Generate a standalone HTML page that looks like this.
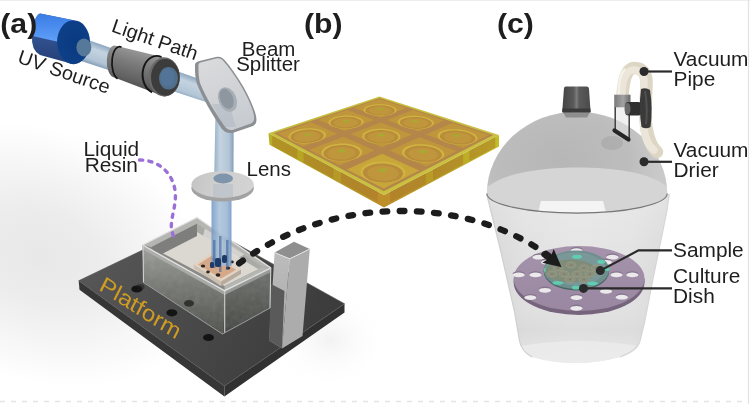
<!DOCTYPE html>
<html><head><meta charset="utf-8">
<style>
html,body{margin:0;padding:0;background:#fff;}
body{width:750px;height:404px;overflow:hidden;}
svg{display:block;will-change:transform;}
text{font-family:"Liberation Sans",sans-serif;}
</style></head>
<body>
<svg width="750" height="404" viewBox="0 0 750 404">
<defs>
  <radialGradient id="bgsh" cx="40" cy="255" r="1" gradientUnits="userSpaceOnUse" gradientTransform="translate(40 255) rotate(20) scale(175 125) translate(-40 -255)">
    <stop offset="0" stop-color="#e8e8e8"/>
    <stop offset="0.35" stop-color="#ececec"/>
    <stop offset="0.7" stop-color="#f6f6f6"/>
    <stop offset="1" stop-color="#ffffff"/>
  </radialGradient>
  <radialGradient id="bgsh2" cx="300" cy="330" r="1" gradientUnits="userSpaceOnUse" gradientTransform="translate(330 340) scale(60 50) translate(-300 -330)">
    <stop offset="0" stop-color="#f2f2f2"/>
    <stop offset="1" stop-color="#ffffff" stop-opacity="0"/>
  </radialGradient>
  <linearGradient id="plTop" gradientUnits="userSpaceOnUse" x1="100" y1="240" x2="300" y2="360">
    <stop offset="0" stop-color="#575757"/>
    <stop offset="1" stop-color="#3c3c3c"/>
  </linearGradient>
  <linearGradient id="uvTop" gradientUnits="userSpaceOnUse" x1="0" y1="14" x2="0" y2="40">
    <stop offset="0" stop-color="#3a7ce4"/>
    <stop offset="1" stop-color="#5d9ef8"/>
  </linearGradient>
  <linearGradient id="uvBot" gradientUnits="userSpaceOnUse" x1="0" y1="36" x2="0" y2="62">
    <stop offset="0" stop-color="#33528f"/>
    <stop offset="1" stop-color="#24407a"/>
  </linearGradient>
  <radialGradient id="uvFace" cx="0.55" cy="0.5" r="0.6">
    <stop offset="0" stop-color="#0a3a80"/>
    <stop offset="0.85" stop-color="#0d3f88"/>
    <stop offset="1" stop-color="#1b4f9e"/>
  </radialGradient>
  <linearGradient id="cylBody" gradientUnits="userSpaceOnUse" x1="145" y1="47" x2="133" y2="88">
    <stop offset="0" stop-color="#a2a2a2"/>
    <stop offset="0.4" stop-color="#7e7e7e"/>
    <stop offset="0.8" stop-color="#626262"/>
    <stop offset="1" stop-color="#4e4e4e"/>
  </linearGradient>
  <linearGradient id="beamG" gradientUnits="userSpaceOnUse" x1="133" y1="56" x2="126" y2="76">
    <stop offset="0" stop-color="#8fa9c2"/>
    <stop offset="0.3" stop-color="#c4d3e0"/>
    <stop offset="0.8" stop-color="#b2c5d6"/>
    <stop offset="1" stop-color="#8aa3bb"/>
  </linearGradient>
  <linearGradient id="vbeamG" gradientUnits="userSpaceOnUse" x1="213" y1="0" x2="233" y2="0">
    <stop offset="0" stop-color="#8fa9c2"/>
    <stop offset="0.35" stop-color="#c4d3e0"/>
    <stop offset="0.8" stop-color="#b2c5d6"/>
    <stop offset="1" stop-color="#8aa3bb"/>
  </linearGradient>
  <linearGradient id="vbeam2" gradientUnits="userSpaceOnUse" x1="211" y1="0" x2="232" y2="0">
    <stop offset="0" stop-color="#6f97c6"/>
    <stop offset="0.4" stop-color="#a9c1d9"/>
    <stop offset="0.75" stop-color="#9bb6d2"/>
    <stop offset="1" stop-color="#6b93c4"/>
  </linearGradient>
  <linearGradient id="splitG" gradientUnits="userSpaceOnUse" x1="210" y1="60" x2="245" y2="130">
    <stop offset="0" stop-color="#d9dadc"/>
    <stop offset="1" stop-color="#c6cacf"/>
  </linearGradient>
  <linearGradient id="lensG" gradientUnits="userSpaceOnUse" x1="192" y1="178" x2="252" y2="190">
    <stop offset="0" stop-color="#c4c4c4"/>
    <stop offset="0.4" stop-color="#cfcfcf"/>
    <stop offset="1" stop-color="#d3d3d3"/>
  </linearGradient>
  <linearGradient id="boxL" gradientUnits="userSpaceOnUse" x1="0" y1="250" x2="0" y2="330">
    <stop offset="0" stop-color="#9a9c97"/>
    <stop offset="0.45" stop-color="#767873"/>
    <stop offset="1" stop-color="#50524d"/>
  </linearGradient>
  <linearGradient id="boxR" gradientUnits="userSpaceOnUse" x1="0" y1="272" x2="0" y2="330">
    <stop offset="0" stop-color="#6e706c"/>
    <stop offset="1" stop-color="#464844"/>
  </linearGradient>
  <linearGradient id="pilL" gradientUnits="userSpaceOnUse" x1="0" y1="255" x2="0" y2="345">
    <stop offset="0" stop-color="#bcbcbc"/>
    <stop offset="1" stop-color="#a8a8a8"/>
  </linearGradient>
  <linearGradient id="plBorder" gradientUnits="userSpaceOnUse" x1="300" y1="100" x2="470" y2="190">
    <stop offset="0" stop-color="#c6be3c"/>
    <stop offset="1" stop-color="#cac042"/>
  </linearGradient>
  <linearGradient id="plSideL" gradientUnits="userSpaceOnUse" x1="268" y1="0" x2="383" y2="0">
    <stop offset="0" stop-color="#b8b020"/>
    <stop offset="0.6" stop-color="#b69a26"/>
    <stop offset="1" stop-color="#bd8e2a"/>
  </linearGradient>
  <linearGradient id="plSideR" gradientUnits="userSpaceOnUse" x1="383" y1="0" x2="497" y2="0">
    <stop offset="0" stop-color="#bd8e2a"/>
    <stop offset="0.4" stop-color="#b89a26"/>
    <stop offset="1" stop-color="#c2bc26"/>
  </linearGradient>
  <linearGradient id="bucketG" gradientUnits="userSpaceOnUse" x1="487" y1="0" x2="669" y2="0">
    <stop offset="0" stop-color="#d4d4d4"/>
    <stop offset="0.2" stop-color="#dedede"/>
    <stop offset="0.5" stop-color="#e3e3e3"/>
    <stop offset="0.8" stop-color="#e0e0e0"/>
    <stop offset="1" stop-color="#d8d8d8"/>
  </linearGradient>
  <linearGradient id="bucketV" gradientUnits="userSpaceOnUse" x1="0" y1="200" x2="0" y2="362">
    <stop offset="0" stop-color="#ffffff" stop-opacity="0.25"/>
    <stop offset="0.5" stop-color="#ffffff" stop-opacity="0"/>
    <stop offset="0.8" stop-color="#d0d0d0" stop-opacity="0.25"/>
    <stop offset="1" stop-color="#ffffff" stop-opacity="0.2"/>
  </linearGradient>
  <linearGradient id="purpG" gradientUnits="userSpaceOnUse" x1="0" y1="247" x2="0" y2="308">
    <stop offset="0" stop-color="#a592ab"/>
    <stop offset="1" stop-color="#9a87a1"/>
  </linearGradient>
  <radialGradient id="domeG" gradientUnits="userSpaceOnUse" cx="560" cy="160" r="1" gradientTransform="translate(560 160) scale(100 70) translate(-560 -160)">
    <stop offset="0" stop-color="#b6b6b6"/>
    <stop offset="0.7" stop-color="#bdbdbd"/>
    <stop offset="1" stop-color="#c9c9c9"/>
  </radialGradient>
  <linearGradient id="knobG" gradientUnits="userSpaceOnUse" x1="562" y1="0" x2="591" y2="0">
    <stop offset="0" stop-color="#444"/>
    <stop offset="0.4" stop-color="#5a5a5a"/>
    <stop offset="0.5" stop-color="#7a7a7a"/>
    <stop offset="0.6" stop-color="#5a5a5a"/>
    <stop offset="1" stop-color="#4a4a4a"/>
  </linearGradient>
  <clipPath id="boxClip"><polygon points="142.6,245 224.7,290.7 271,268 270,308 222.5,334 143.5,282.5"/></clipPath>
  <filter id="noiseF" x="0" y="0" width="1" height="1"><feTurbulence type="fractalNoise" baseFrequency="0.18" numOctaves="3" seed="7"/><feColorMatrix type="saturate" values="0"/></filter>
  <linearGradient id="valveG" x1="0" y1="0" x2="1" y2="0">
    <stop offset="0" stop-color="#7a7a7a"/>
    <stop offset="0.55" stop-color="#a2a2a2"/>
    <stop offset="1" stop-color="#6a6a6a"/>
  </linearGradient>
</defs>
<rect width="750" height="404" fill="#fff"/>
<rect x="0" y="100" width="260" height="304" fill="url(#bgsh)"/>
<rect x="250" y="270" width="170" height="130" fill="url(#bgsh2)"/>

<!-- ===== PLATFORM ===== -->
<g id="platform">
  <polygon points="78.7,280.8 224.4,386 224.4,396.5 79.5,289.8" fill="#363636"/>
  <polygon points="224.4,386 344.5,303.8 344.5,312.4 224.4,396.5" fill="#313131"/>
  <polygon points="78.7,280.8 199,223 344.5,303.8 224.4,386" fill="url(#plTop)" stroke="#555" stroke-width="0.7"/>
  <ellipse cx="136.8" cy="289" rx="5.5" ry="3.6" fill="#141414"/>
  <ellipse cx="171.8" cy="312.8" rx="5.5" ry="3.6" fill="#141414"/>
  <ellipse cx="208.5" cy="337.5" rx="5.5" ry="3.6" fill="#141414"/>
  <ellipse cx="189" cy="303.3" rx="5" ry="3.3" fill="#141414"/>
  <text transform="translate(97.9,289.6) rotate(32.5) skewX(5.5) scale(1,0.88)" font-size="25" fill="#d09c24">Platform</text>
</g>

<!-- ===== PILLAR ===== -->
<g id="pillar">
  <polygon points="274.6,252.6 289.7,258.8 282,348.5 269,340.5" fill="url(#pilL)"/>
  <polygon points="271,284 284.5,291 282,348.5 269,340.5" fill="#5a5a5a"/>
  <polygon points="289.7,258.8 309.8,249 302.5,336 282,348.5" fill="#acacac"/>
  <polygon points="274.6,252.6 294,241.8 309.8,249 289.7,258.8" fill="#8f8f8f"/>
  <path d="M274.6,252.6 L289.7,258.8 L309.8,249" stroke="#ececec" stroke-width="0.9" fill="none"/>
</g>

<!-- ===== GLASS BOX ===== -->
<g id="box">
  <polygon points="142.6,245 197,217.5 271,268 270,308 222.5,334 143.5,282.5" fill="#8a8b88"/>
  <polygon points="151,247 197,223.5 263,267 224.5,286" fill="#dbd8d1"/>
  <polygon points="151,247 197,223.5 197,236 158,256" fill="#7e7f7c"/>
  <polygon points="197,223.5 263,267 258,269 197,232" fill="#a9a9a6"/>
  <polygon points="205,228 245,254 238,258 203,236" fill="#e6e4df" opacity="0.7"/>
  <!-- sample holder -->
  <polygon points="193.5,264.5 212,252 241,269.5 221,281.5" fill="#e2d2c2"/>
  <polygon points="198,264.5 212,255.5 236,269.8 221,278.5" fill="#d6a88a"/>
  <polygon points="193.5,264.5 221,281.5 221,286 194,268.5" fill="#cdbfb2"/>
  <polygon points="221,281.5 241,269.5 241,274 221,286" fill="#b8aa9c"/>
  <g fill="#2a2622">
    <ellipse cx="203" cy="266" rx="2.2" ry="1.6"/><ellipse cx="214" cy="259" rx="2.2" ry="1.6"/>
    <ellipse cx="228" cy="268" rx="2.2" ry="1.6"/><ellipse cx="218" cy="275" rx="2.4" ry="1.8"/>
    <ellipse cx="232" cy="262" rx="1.8" ry="1.4"/><ellipse cx="208" cy="272" rx="1.8" ry="1.4"/>
  </g>
  <!-- front walls -->
  <polygon points="142.6,245 224.7,290.7 222.5,334 143.5,282.5" fill="url(#boxL)"/>
  <polygon points="224.7,290.7 271,268 270,308 222.5,334" fill="url(#boxR)"/>
  <g clip-path="url(#boxClip)"><rect x="140" y="215" width="135" height="120" filter="url(#noiseF)" opacity="0.14"/></g>
  <ellipse cx="189" cy="303.3" rx="5" ry="3.3" fill="#1a1a1a" opacity="0.7"/>
  <ellipse cx="140.5" cy="287" rx="4" ry="3" fill="#1a1a1a" opacity="0.5"/>
  <polygon points="142.6,245 224.7,290.7 224.7,295 142.8,249.5" fill="#b0b0ae" opacity="0.85"/>
  <polygon points="224.7,290.7 271,268 271,272 224.7,295" fill="#a2a2a0" opacity="0.85"/>
  <polygon points="142.6,245 197,217.5 271,268 263,267 197,223.5 151,247" fill="#b9b9b7" opacity="0.9"/>
  <polygon points="224.7,290.7 224.5,286 263,267 271,268" fill="#b9b9b7" opacity="0.9"/>
  <path d="M142.6,245 L197,217.5 L271,268 M142.6,245 L224.7,290.7 L271,268" fill="none" stroke="#e4e4e4" stroke-width="1.3"/>
  <path d="M224.7,291 L224.7,333 M143,245.5 L143.5,282.5 M270.8,268 L270,308" fill="none" stroke="#d0d0d0" stroke-width="1.1"/>
  <path d="M143.5,282.5 L222.5,334 L270,308" fill="none" stroke="#9a9a9a" stroke-width="1"/>
</g>

<!-- ===== BEAMS ===== -->
<g id="beams">
  <rect x="211.5" y="196" width="20" height="70" fill="url(#vbeam2)" opacity="0.88"/>
  <g fill="#3a5f96" opacity="0.55">
    <rect x="213" y="240" width="2.5" height="28"/><rect x="219" y="236" width="2.5" height="36"/><rect x="226" y="240" width="2.5" height="30"/>
  </g>
  <g fill="#1e3a66">
    <rect x="215" y="258" width="6" height="9" rx="2"/><rect x="222" y="255" width="5" height="8" rx="2"/><rect x="210" y="262" width="4" height="6" rx="1.5"/>
  </g>
  <path d="M84,38.5 L205,81 L212,104 L78,60 Z" fill="url(#beamG)"/>
  <path d="M215.5,112 L233.7,112 L233.5,186 L214,186 Z" fill="url(#vbeamG)"/>
</g>

<!-- ===== LENS ===== -->
<g id="lens">
  <ellipse cx="222.6" cy="188.3" rx="31.2" ry="13.2" fill="#a2a2a2"/>
  <ellipse cx="222.6" cy="184.5" rx="31.2" ry="13.2" fill="url(#lensG)"/>
  <rect x="213" y="184" width="20" height="13" fill="#8fa6bf" opacity="0.25"/>
  <ellipse cx="223.2" cy="178.5" rx="9.8" ry="5" fill="#7e95ab"/>
</g>

<!-- ===== BEAM SPLITTER ===== -->
<g id="splitter">
  <path d="M195,67 C194.5,63 196,62 199.5,61 L216,57 C220,56.2 222.5,57.5 225,60.5 C234,71 247,90 253.5,108 C256.5,116 258.5,123 253,126 L234,132.5 C229,134 225,132.5 221.5,128.5 C212,114 203,99 197,84 C195,78 195,72 195,67 Z" fill="#8c8f93"/>
  <path d="M198.5,66.5 C198.3,63 199.5,62.5 202.5,62 L216,58.5 C219.5,57.8 221.5,58.8 223.8,61.5 C233,72 245.5,90.5 252,108.5 C254.5,116 255.5,121 251,123.5 L234,129.5 C230,131 227,129.5 224.5,126 C215,112 206,98 200,83 C198.5,77 198.5,71.5 198.5,66.5 Z" fill="url(#splitG)"/>
  <path d="M212,104 C217,114 221,121 225,127 L236,127 C233,118 231,110 230,104 Z" fill="#aab4c0" opacity="0.45"/>
  <ellipse cx="227.5" cy="99.5" rx="9" ry="12.8" transform="rotate(-22 227.5 99.5)" fill="#a9afb6"/>
  <ellipse cx="226.6" cy="98.8" rx="6.5" ry="10.5" transform="rotate(-22 226.6 98.8)" fill="#8e969f"/>
</g>

<!-- ===== BLACK CYLINDER ===== -->
<g id="cyl">
  <path d="M114.7,45.4 L164.2,57.5 A15.6,19.5 0 0 1 164.2,96.5 L113,77 A8,16 0 0 1 114.7,45.4 Z" fill="url(#cylBody)"/>
  <path d="M121.5,47.2 A7.5,16.2 0 0 0 117.5,78.7" fill="none" stroke="#151515" stroke-width="1.7"/>
  <path d="M161.5,57 A14,18.5 0 0 0 152,92.3" fill="none" stroke="#151515" stroke-width="1.9"/>
  <ellipse cx="164.2" cy="77" rx="15.6" ry="19.5" fill="#6a6a6a"/>
  <ellipse cx="165.3" cy="77.4" rx="14.3" ry="18.3" fill="#3c3c3c"/>
  <ellipse cx="168.5" cy="78.3" rx="9.5" ry="11.3" fill="#4f6f8d"/>
  <ellipse cx="167.5" cy="77.3" rx="7" ry="9" fill="#55769a" opacity="0.7"/>
</g>

<!-- ===== UV SOURCE ===== -->
<g id="uv">
  <path d="M40,13.5 L73.5,20.2 L73.5,64.2 L40,55 Q31,50 32,36 Q33,17 40,13.5 Z" fill="url(#uvBot)"/>
  <path d="M40,13.5 L73.5,20.2 L60,42.2 L32.3,36 Q33,17 40,13.5 Z" fill="url(#uvTop)"/>
  <ellipse cx="73.5" cy="42.2" rx="16.5" ry="22" fill="url(#uvFace)"/>
  <ellipse cx="83.9" cy="47.4" rx="7.5" ry="9" fill="#56799a"/>
</g>

<!-- ===== LABELS (a) ===== -->
<g fill="#1e1e1e" font-size="19.5">
  <text transform="translate(0.3,32.5) scale(1.06,1)" font-size="28.5" font-weight="bold">(a)</text>
  <text transform="translate(16.6,62.2) rotate(19.3) scale(1.02,1)">UV Source</text>
  <text transform="translate(110.6,31.3) rotate(19) scale(1.02,1)">Light Path</text>
  <text transform="translate(268.6,55.6) scale(1.05,1)" text-anchor="middle">Beam</text>
  <text transform="translate(268,71.2) scale(1.05,1)" text-anchor="middle">Splitter</text>
  <text transform="translate(246.5,175.8) scale(1.05,1)">Lens</text>
  <text transform="translate(111.3,155.6) scale(1.07,1)" text-anchor="middle">Liquid</text>
  <text transform="translate(111.3,171.7) scale(1.07,1)" text-anchor="middle">Resin</text>
</g>
<path d="M139.5,160 C158,160 172,172 175,190 C177,205 171,215 171.3,228 L173.5,237" fill="none" stroke="#9b6fd8" stroke-width="3.4" stroke-linecap="round" stroke-dasharray="3.2 6.2"/>

<g id="plate">
<polygon points="268.5,133.3 384.0,195.0 384.0,207.5 269.5,144.8" fill="url(#plSideL)"/>
<polygon points="384.0,195.0 499.0,135.0 499.0,146.5 384.0,207.5" fill="url(#plSideR)"/>
<polygon points="272.2,135.3 297.3,148.7 297.3,159.2 272.2,145.8" fill="#a8742c" opacity="0.45"/>
<polygon points="495.2,137.0 469.4,150.4 469.4,160.9 495.2,147.5" fill="#a8742c" opacity="0.45"/>
<polygon points="303.5,152.0 333.5,168.0 333.5,178.5 303.5,162.5" fill="#a8742c" opacity="0.45"/>
<polygon points="463.1,153.7 433.0,169.4 433.0,179.9 463.1,164.2" fill="#a8742c" opacity="0.45"/>
<polygon points="341.0,172.0 377.6,191.6 377.6,202.1 341.0,182.5" fill="#a8742c" opacity="0.45"/>
<polygon points="425.7,173.3 390.1,191.8 390.1,202.3 425.7,183.8" fill="#a8742c" opacity="0.45"/>
<polygon points="379.5,96.5 499.0,135.0 384.0,195.0 268.5,133.3" fill="url(#plBorder)"/>
<polygon points="379.6,98.0 493.2,135.0 383.8,191.2 273.8,133.3" fill="#b4864a"/>
<polygon points="379.6,99.1 406.6,108.0 380.5,117.7 353.7,107.8" fill="#c0963c"/>
<polygon points="392.2,114.1 389.3,115.0 385.9,115.6 382.2,115.9 378.4,115.8 374.6,115.5 371.2,114.9 368.3,114.1 365.9,113.0 364.4,111.8 363.6,110.5 363.7,109.2 364.5,108.0 366.2,106.8 368.4,105.9 371.3,105.1 374.5,104.6 378.0,104.3 381.6,104.3 385.1,104.6 388.4,105.1 391.3,105.9 393.7,106.9 395.4,108.0 396.4,109.3 396.6,110.6 395.9,111.9 394.5,113.1" fill="#d0b440"/>
<polygon points="390.9,114.1 388.3,114.8 385.3,115.4 382.0,115.6 378.6,115.6 375.3,115.3 372.2,114.8 369.6,114.0 367.5,113.1 366.1,112.0 365.4,110.9 365.5,109.7 366.2,108.6 367.7,107.6 369.7,106.7 372.2,106.0 375.1,105.6 378.2,105.3 381.4,105.3 384.6,105.6 387.5,106.1 390.1,106.8 392.2,107.6 393.8,108.7 394.6,109.8 394.8,110.9 394.2,112.1 392.9,113.2" fill="#b88c3a"/>
<polygon points="388.5,113.5 386.5,114.0 384.1,114.5 381.6,114.7 378.9,114.6 376.3,114.4 374.0,114.0 371.9,113.4 370.3,112.7 369.2,111.8 368.6,111.0 368.6,110.0 369.2,109.2 370.3,108.4 371.9,107.7 373.9,107.2 376.2,106.8 378.6,106.6 381.1,106.6 383.6,106.8 385.9,107.2 387.9,107.7 389.6,108.4 390.8,109.2 391.5,110.1 391.6,111.0 391.1,111.9 390.1,112.7" fill="#c0963c"/>
<polygon points="382.3,109.9 381.3,110.1 380.0,110.2 378.8,110.1 377.7,109.8 377.0,109.5 376.8,109.1 377.0,108.6 377.7,108.3 378.7,108.0 379.9,108.0 381.2,108.0 382.2,108.3 382.9,108.6 383.2,109.1 383.0,109.5" fill="#a8a832"/>
<polygon points="347.4,109.9 374.2,120.0 344.4,131.1 318.1,119.8" fill="#c0963c"/>
<polygon points="358.0,126.8 354.8,127.7 351.1,128.4 347.1,128.7 343.0,128.7 339.1,128.3 335.6,127.6 332.7,126.6 330.4,125.4 329.0,124.0 328.5,122.6 328.9,121.1 330.1,119.7 332.0,118.4 334.6,117.3 337.8,116.5 341.3,115.9 345.0,115.6 348.8,115.6 352.5,115.9 355.8,116.5 358.7,117.4 361.1,118.5 362.7,119.8 363.5,121.3 363.4,122.7 362.4,124.2 360.6,125.6" fill="#d0b440"/>
<polygon points="356.6,126.7 353.7,127.6 350.4,128.2 346.9,128.5 343.3,128.4 339.8,128.1 336.7,127.5 334.1,126.6 332.1,125.5 330.8,124.3 330.3,123.0 330.6,121.7 331.7,120.4 333.4,119.3 335.8,118.3 338.6,117.5 341.7,117.0 345.1,116.7 348.4,116.7 351.7,117.0 354.7,117.6 357.3,118.4 359.4,119.4 360.8,120.5 361.5,121.8 361.4,123.1 360.6,124.4 358.9,125.7" fill="#b88c3a"/>
<polygon points="354.2,126.0 352.0,126.7 349.4,127.1 346.6,127.3 343.8,127.3 341.1,127.1 338.7,126.6 336.7,125.9 335.1,125.1 334.1,124.1 333.7,123.1 333.9,122.1 334.7,121.1 336.1,120.2 337.9,119.4 340.1,118.8 342.6,118.4 345.2,118.2 347.9,118.2 350.4,118.4 352.8,118.8 354.8,119.5 356.5,120.3 357.6,121.2 358.1,122.2 358.0,123.2 357.3,124.2 356.0,125.2" fill="#c0963c"/>
<polygon points="348.4,121.9 347.3,122.2 346.0,122.2 344.7,122.1 343.6,121.9 342.9,121.4 342.8,121.0 343.1,120.5 343.9,120.1 345.0,119.8 346.3,119.7 347.6,119.8 348.7,120.1 349.3,120.5 349.5,121.0 349.2,121.5" fill="#a8a832"/>
<polygon points="311.1,122.2 337.2,133.8 303.1,146.5 277.8,133.4" fill="#c0963c"/>
<polygon points="319.0,141.2 315.3,142.3 311.2,143.1 306.9,143.4 302.6,143.4 298.5,142.9 295.0,142.1 292.1,141.0 290.0,139.6 288.8,138.0 288.6,136.3 289.3,134.6 290.9,133.0 293.3,131.5 296.3,130.3 299.8,129.3 303.7,128.7 307.7,128.3 311.7,128.3 315.5,128.7 318.9,129.4 321.8,130.5 324.1,131.7 325.5,133.2 326.0,134.9 325.6,136.6 324.3,138.3 322.0,139.8" fill="#d0b440"/>
<polygon points="317.5,141.1 314.3,142.1 310.6,142.8 306.8,143.1 302.9,143.1 299.3,142.7 296.2,142.0 293.6,140.9 291.7,139.7 290.7,138.3 290.5,136.8 291.1,135.3 292.5,133.8 294.6,132.5 297.3,131.4 300.4,130.5 303.9,129.9 307.5,129.6 311.1,129.6 314.5,130.0 317.5,130.6 320.1,131.5 322.1,132.7 323.3,134.0 323.8,135.5 323.4,137.0 322.2,138.5 320.2,139.9" fill="#b88c3a"/>
<polygon points="315.1,140.3 312.6,141.1 309.7,141.6 306.7,141.8 303.8,141.8 301.0,141.5 298.5,140.9 296.5,140.2 295.0,139.2 294.2,138.1 294.0,136.9 294.5,135.7 295.5,134.6 297.2,133.6 299.3,132.7 301.8,132.0 304.5,131.5 307.3,131.3 310.2,131.3 312.8,131.6 315.2,132.1 317.3,132.8 318.8,133.7 319.8,134.8 320.1,135.9 319.8,137.1 318.8,138.3 317.2,139.4" fill="#c0963c"/>
<polygon points="309.9,135.5 308.6,135.9 307.2,136.0 305.9,135.8 304.8,135.5 304.2,135.0 304.1,134.5 304.6,133.9 305.5,133.5 306.8,133.1 308.2,133.0 309.5,133.2 310.5,133.5 311.2,134.0 311.3,134.5 310.8,135.1" fill="#a8a832"/>
<polygon points="413.2,110.1 444.5,120.4 418.3,131.6 387.0,120.1" fill="#c0963c"/>
<polygon points="429.8,127.2 426.9,128.2 423.3,128.8 419.3,129.2 415.2,129.1 411.0,128.8 407.2,128.0 403.8,127.0 401.0,125.8 399.0,124.4 397.9,122.9 397.7,121.4 398.4,120.0 399.9,118.7 402.2,117.6 405.1,116.7 408.4,116.1 412.2,115.8 416.0,115.8 419.9,116.2 423.6,116.8 426.9,117.7 429.7,118.8 431.9,120.1 433.3,121.6 433.8,123.1 433.4,124.6 432.0,126.0" fill="#d0b440"/>
<polygon points="428.4,127.1 425.7,128.0 422.6,128.6 419.0,128.9 415.3,128.9 411.7,128.5 408.2,127.9 405.2,127.0 402.7,125.9 401.0,124.6 400.0,123.3 399.8,122.0 400.4,120.7 401.7,119.5 403.7,118.6 406.3,117.8 409.3,117.2 412.6,117.0 416.1,117.0 419.6,117.3 422.9,117.8 425.8,118.6 428.3,119.7 430.2,120.8 431.5,122.1 431.9,123.5 431.5,124.8 430.3,126.0" fill="#b88c3a"/>
<polygon points="425.6,126.4 423.6,127.1 421.1,127.5 418.4,127.8 415.5,127.7 412.6,127.5 409.9,127.0 407.6,126.3 405.7,125.4 404.3,124.5 403.5,123.4 403.3,122.4 403.7,121.4 404.8,120.5 406.3,119.7 408.4,119.1 410.7,118.6 413.3,118.4 416.1,118.4 418.8,118.7 421.4,119.1 423.7,119.8 425.7,120.6 427.2,121.5 428.1,122.5 428.4,123.6 428.1,124.6 427.2,125.6" fill="#c0963c"/>
<polygon points="418.1,122.2 417.0,122.5 415.7,122.6 414.3,122.5 413.1,122.2 412.3,121.8 411.9,121.3 412.1,120.8 412.7,120.4 413.8,120.1 415.1,120.0 416.4,120.1 417.6,120.4 418.5,120.8 418.9,121.3 418.7,121.8" fill="#a8a832"/>
<polygon points="380.7,122.5 412.0,134.4 381.8,147.3 350.8,133.9" fill="#c0963c"/>
<polygon points="395.4,141.9 392.0,143.0 388.1,143.7 383.8,144.1 379.4,144.1 375.0,143.6 371.0,142.8 367.6,141.6 365.0,140.2 363.2,138.6 362.3,136.9 362.4,135.1 363.4,133.5 365.3,132.0 367.9,130.7 371.1,129.8 374.8,129.1 378.8,128.8 382.9,128.8 387.0,129.2 390.8,129.9 394.1,130.9 396.9,132.2 398.9,133.7 400.1,135.4 400.4,137.1 399.6,138.9 398.0,140.5" fill="#d0b440"/>
<polygon points="393.8,141.8 390.9,142.8 387.4,143.5 383.5,143.8 379.6,143.8 375.7,143.4 372.2,142.6 369.2,141.6 366.8,140.3 365.2,138.9 364.4,137.3 364.4,135.8 365.3,134.3 367.0,133.0 369.3,131.9 372.2,131.0 375.5,130.4 379.1,130.1 382.8,130.1 386.4,130.4 389.8,131.1 392.8,132.0 395.3,133.2 397.1,134.6 398.1,136.0 398.3,137.6 397.6,139.1 396.1,140.5" fill="#b88c3a"/>
<polygon points="391.0,140.9 388.7,141.7 386.0,142.2 383.0,142.5 380.0,142.5 377.0,142.2 374.2,141.6 371.9,140.8 370.0,139.8 368.7,138.7 368.1,137.5 368.1,136.3 368.8,135.1 370.0,134.1 371.9,133.2 374.1,132.5 376.7,132.0 379.6,131.7 382.5,131.8 385.3,132.0 388.0,132.6 390.3,133.3 392.3,134.2 393.7,135.3 394.4,136.5 394.6,137.7 394.0,138.9 392.8,140.0" fill="#c0963c"/>
<polygon points="383.8,136.1 382.7,136.4 381.2,136.5 379.8,136.4 378.6,136.1 377.8,135.6 377.5,135.0 377.7,134.4 378.5,134.0 379.7,133.7 381.1,133.6 382.5,133.7 383.7,134.0 384.5,134.5 384.9,135.0 384.6,135.6" fill="#a8a832"/>
<polygon points="343.6,136.7 374.5,150.4 339.5,165.5 309.3,149.8" fill="#c0963c"/>
<polygon points="355.6,158.8 351.8,160.1 347.4,161.0 342.7,161.4 338.0,161.3 333.4,160.8 329.4,159.8 326.0,158.4 323.4,156.8 321.8,154.9 321.3,152.9 321.8,150.9 323.2,149.0 325.5,147.3 328.6,145.8 332.3,144.7 336.4,143.9 340.7,143.5 345.1,143.6 349.3,144.0 353.2,144.9 356.6,146.1 359.3,147.6 361.1,149.4 362.0,151.3 361.9,153.3 360.8,155.3 358.7,157.2" fill="#d0b440"/>
<polygon points="354.0,158.7 350.6,159.9 346.7,160.7 342.5,161.0 338.3,161.0 334.3,160.5 330.6,159.6 327.6,158.4 325.3,156.9 323.9,155.2 323.4,153.5 323.8,151.7 325.1,150.0 327.2,148.4 329.9,147.1 333.2,146.1 336.9,145.4 340.7,145.1 344.6,145.1 348.4,145.5 351.9,146.3 354.9,147.4 357.3,148.7 358.9,150.3 359.7,152.0 359.6,153.8 358.6,155.6 356.7,157.3" fill="#b88c3a"/>
<polygon points="351.2,157.7 348.5,158.6 345.5,159.2 342.3,159.5 339.0,159.5 335.9,159.1 333.0,158.4 330.7,157.5 328.9,156.3 327.7,155.0 327.3,153.6 327.6,152.2 328.6,150.9 330.2,149.7 332.3,148.6 334.9,147.8 337.8,147.3 340.9,147.0 344.0,147.0 346.9,147.4 349.7,148.0 352.0,148.8 353.9,149.9 355.1,151.2 355.7,152.5 355.6,153.9 354.8,155.3 353.3,156.6" fill="#c0963c"/>
<polygon points="344.5,152.1 343.2,152.4 341.6,152.5 340.1,152.4 338.9,152.0 338.1,151.4 337.9,150.8 338.3,150.1 339.3,149.6 340.6,149.2 342.1,149.1 343.6,149.2 344.8,149.6 345.6,150.2 345.8,150.8 345.4,151.5" fill="#a8a832"/>
<polygon points="452.2,122.9 488.9,134.9 463.0,148.1 426.0,134.5" fill="#c0963c"/>
<polygon points="474.0,142.5 471.1,143.7 467.3,144.4 463.0,144.8 458.5,144.8 453.8,144.3 449.4,143.5 445.5,142.3 442.2,140.8 439.7,139.2 438.1,137.4 437.5,135.7 437.9,134.0 439.3,132.5 441.5,131.2 444.4,130.2 448.0,129.5 451.9,129.2 456.2,129.2 460.4,129.6 464.6,130.3 468.5,131.4 471.8,132.7 474.5,134.3 476.4,136.0 477.3,137.7 477.2,139.5 476.1,141.1" fill="#d0b440"/>
<polygon points="472.4,142.5 469.8,143.5 466.4,144.2 462.6,144.5 458.6,144.5 454.5,144.1 450.5,143.3 447.0,142.2 444.1,140.9 441.8,139.5 440.4,137.9 439.9,136.4 440.2,134.9 441.4,133.5 443.4,132.3 446.0,131.4 449.2,130.8 452.7,130.5 456.5,130.5 460.3,130.9 464.1,131.6 467.5,132.5 470.5,133.7 472.9,135.1 474.6,136.6 475.4,138.2 475.3,139.7 474.3,141.2" fill="#b88c3a"/>
<polygon points="469.2,141.6 467.1,142.4 464.6,142.9 461.6,143.2 458.5,143.1 455.3,142.8 452.2,142.2 449.5,141.4 447.2,140.4 445.4,139.3 444.3,138.1 443.8,136.8 444.1,135.7 445.0,134.6 446.5,133.7 448.6,133.0 451.1,132.5 453.9,132.2 456.8,132.2 459.9,132.5 462.8,133.1 465.5,133.8 467.8,134.7 469.7,135.8 471.0,137.0 471.6,138.3 471.5,139.5 470.7,140.6" fill="#c0963c"/>
<polygon points="459.9,136.7 458.8,137.0 457.4,137.1 455.9,137.0 454.5,136.6 453.5,136.1 453.0,135.5 453.0,135.0 453.6,134.5 454.7,134.2 456.1,134.1 457.6,134.2 459.0,134.5 460.0,135.0 460.6,135.6 460.5,136.2" fill="#a8a832"/>
<polygon points="419.6,137.3 456.7,151.3 426.6,166.6 389.5,150.6" fill="#c0963c"/>
<polygon points="439.8,159.8 436.4,161.1 432.2,162.0 427.6,162.5 422.7,162.4 417.8,161.8 413.2,160.8 409.2,159.4 405.9,157.7 403.6,155.8 402.2,153.8 402.0,151.7 402.7,149.8 404.4,148.0 407.0,146.6 410.4,145.4 414.3,144.6 418.6,144.2 423.1,144.3 427.6,144.7 431.9,145.6 435.8,146.8 439.2,148.4 441.8,150.2 443.5,152.1 444.2,154.2 443.8,156.2 442.3,158.1" fill="#d0b440"/>
<polygon points="438.1,159.7 435.0,160.9 431.4,161.7 427.2,162.1 422.9,162.0 418.5,161.5 414.5,160.6 410.9,159.4 408.0,157.9 405.9,156.1 404.6,154.3 404.4,152.5 405.0,150.8 406.5,149.2 408.9,147.9 411.8,146.8 415.3,146.1 419.2,145.8 423.2,145.8 427.3,146.2 431.1,147.0 434.6,148.1 437.6,149.5 439.9,151.1 441.4,152.9 442.0,154.7 441.6,156.5 440.3,158.2" fill="#b88c3a"/>
<polygon points="434.8,158.7 432.4,159.6 429.6,160.2 426.4,160.5 423.0,160.5 419.6,160.1 416.5,159.4 413.7,158.4 411.4,157.3 409.7,155.9 408.7,154.5 408.5,153.1 409.0,151.7 410.1,150.5 411.9,149.4 414.3,148.6 417.0,148.0 420.1,147.8 423.2,147.8 426.4,148.1 429.5,148.7 432.2,149.6 434.6,150.7 436.3,152.0 437.5,153.4 437.9,154.8 437.6,156.2 436.6,157.5" fill="#c0963c"/>
<polygon points="425.8,152.9 424.5,153.3 423.0,153.4 421.4,153.3 420.0,152.9 419.0,152.3 418.5,151.6 418.7,150.9 419.4,150.4 420.7,150.0 422.2,149.9 423.7,150.0 425.1,150.4 426.2,151.0 426.6,151.7 426.5,152.3" fill="#a8a832"/>
<polygon points="382.1,153.8 419.2,170.4 383.7,188.5 347.0,169.4" fill="#c8a63a"/>
<polygon points="399.7,180.0 395.8,181.6 391.1,182.6 386.0,183.1 380.7,183.0 375.6,182.4 370.8,181.2 366.8,179.5 363.6,177.4 361.5,175.2 360.5,172.8 360.6,170.4 361.8,168.1 364.0,166.1 367.1,164.3 370.9,163.0 375.3,162.1 380.0,161.6 384.8,161.7 389.6,162.2 394.0,163.3 398.0,164.7 401.3,166.5 403.7,168.7 405.2,171.0 405.5,173.4 404.7,175.8 402.8,178.0" fill="#d0b440"/>
<polygon points="397.9,179.9 394.4,181.3 390.2,182.2 385.7,182.7 381.0,182.6 376.4,182.0 372.2,180.9 368.6,179.4 365.8,177.6 363.9,175.6 362.9,173.5 363.0,171.3 364.1,169.3 366.1,167.4 368.8,165.9 372.2,164.7 376.1,163.8 380.3,163.5 384.6,163.5 388.9,164.0 392.9,164.9 396.4,166.2 399.4,167.9 401.5,169.8 402.8,171.9 403.1,174.0 402.3,176.2 400.6,178.2" fill="#b88c3a"/>
<polygon points="394.6,178.7 391.8,179.8 388.6,180.5 385.1,180.8 381.4,180.8 377.9,180.3 374.6,179.5 371.8,178.3 369.6,176.9 368.1,175.3 367.3,173.7 367.3,172.0 368.1,170.4 369.7,168.9 371.8,167.7 374.5,166.7 377.6,166.1 380.9,165.8 384.3,165.8 387.6,166.2 390.8,166.9 393.6,168.0 395.9,169.3 397.5,170.8 398.5,172.4 398.7,174.1 398.1,175.8 396.7,177.3" fill="#c0963c"/>
<polygon points="385.9,171.8 384.6,172.3 382.9,172.4 381.2,172.2 379.8,171.8 378.8,171.1 378.4,170.3 378.7,169.5 379.7,168.8 381.0,168.4 382.7,168.3 384.3,168.5 385.8,168.9 386.8,169.6 387.1,170.4 386.9,171.2" fill="#a8a832"/>
</g>
<text transform="translate(304,32.7) scale(1.06,1)" font-size="28.5" font-weight="bold" fill="#1e1e1e">(b)</text>
<text transform="translate(497,32.7) scale(1.06,1)" font-size="28.5" font-weight="bold" fill="#1e1e1e">(c)</text>
<g id="desic">
<path d="M486.7,194 L500.5,250 L514.7,312.7 L519.3,340 Q521,351 532,357 Q575,369 620,357 Q637,351 640,341 L644.4,323 L653,279 L666.7,212 L669.3,194 Z" fill="url(#bucketG)"/>
<path d="M486.7,194 L500.5,250 L514.7,312.7 L519.3,340 Q521,351 532,357 Q575,369 620,357 Q637,351 640,341 L644.4,323 L653,279 L666.7,212 L669.3,194 Z" fill="url(#bucketV)"/>
<path d="M521,346 Q578,336 638,346 Q635,352 620,357 Q575,369 532,357 Q523,352 521,346 Z" fill="#ececec" opacity="0.75"/>
<path d="M486.7,194 L500.5,250 L514.7,312.7 L519.3,340 Q521,351 532,357" fill="none" stroke="#cfcfcf" stroke-width="1.2"/>
<path d="M669.3,194 L666.7,212 L653,279 L644.4,323 L640,341 Q637,351 620,357" fill="none" stroke="#d6d6d6" stroke-width="1.2"/>
<ellipse cx="579.1" cy="282.5" rx="65.4" ry="32.5" fill="#75647c"/>
<rect x="513.7" y="278.5" width="130.8" height="4" fill="#75647c"/>
<ellipse cx="579.1" cy="278.5" rx="65.4" ry="32.5" fill="url(#purpG)"/>
<ellipse cx="518.7" cy="273.8" rx="6" ry="2.6" fill="#85758c"/>
<ellipse cx="518.7" cy="274.9" rx="6" ry="2.4" fill="#ebe9ec"/>
<ellipse cx="538.7" cy="256.1" rx="6" ry="2.6" fill="#85758c"/>
<ellipse cx="538.7" cy="257.2" rx="6" ry="2.4" fill="#ebe9ec"/>
<ellipse cx="576.5" cy="249.6" rx="6" ry="2.6" fill="#85758c"/>
<ellipse cx="576.5" cy="250.7" rx="6" ry="2.4" fill="#ebe9ec"/>
<ellipse cx="612.3" cy="256.1" rx="6" ry="2.6" fill="#85758c"/>
<ellipse cx="612.3" cy="257.2" rx="6" ry="2.4" fill="#ebe9ec"/>
<ellipse cx="632.3" cy="273.8" rx="6" ry="2.6" fill="#85758c"/>
<ellipse cx="632.3" cy="274.9" rx="6" ry="2.4" fill="#ebe9ec"/>
<ellipse cx="621.8" cy="296.1" rx="6" ry="2.6" fill="#85758c"/>
<ellipse cx="621.8" cy="297.2" rx="6" ry="2.4" fill="#ebe9ec"/>
<ellipse cx="576.4" cy="307.2" rx="6" ry="2.6" fill="#85758c"/>
<ellipse cx="576.4" cy="308.3" rx="6" ry="2.4" fill="#ebe9ec"/>
<ellipse cx="530.3" cy="296.5" rx="6" ry="2.6" fill="#85758c"/>
<ellipse cx="530.3" cy="297.6" rx="6" ry="2.4" fill="#ebe9ec"/>
<ellipse cx="535.5" cy="273.8" rx="6" ry="2.6" fill="#85758c"/>
<ellipse cx="535.5" cy="274.9" rx="6" ry="2.4" fill="#ebe9ec"/>
<ellipse cx="616.5" cy="273.8" rx="6" ry="2.6" fill="#85758c"/>
<ellipse cx="616.5" cy="274.9" rx="6" ry="2.4" fill="#ebe9ec"/>
<ellipse cx="606.0" cy="290.2" rx="6" ry="2.6" fill="#85758c"/>
<ellipse cx="606.0" cy="291.3" rx="6" ry="2.4" fill="#ebe9ec"/>
<ellipse cx="576.5" cy="296.5" rx="6" ry="2.6" fill="#85758c"/>
<ellipse cx="576.5" cy="297.6" rx="6" ry="2.4" fill="#ebe9ec"/>
<ellipse cx="545.0" cy="289.2" rx="6" ry="2.6" fill="#85758c"/>
<ellipse cx="545.0" cy="290.3" rx="6" ry="2.4" fill="#ebe9ec"/>
<ellipse cx="547.0" cy="261.2" rx="6" ry="2.6" fill="#85758c"/>
<ellipse cx="547.0" cy="262.3" rx="6" ry="2.4" fill="#ebe9ec"/>
<ellipse cx="576.5" cy="257.2" rx="6" ry="2.6" fill="#85758c"/>
<ellipse cx="576.5" cy="258.3" rx="6" ry="2.4" fill="#ebe9ec"/>
<ellipse cx="606.0" cy="261.2" rx="6" ry="2.6" fill="#85758c"/>
<ellipse cx="606.0" cy="262.3" rx="6" ry="2.4" fill="#ebe9ec"/>
<ellipse cx="576.4" cy="271.3" rx="32.8" ry="19.2" fill="#4a6664"/>
<ellipse cx="576.4" cy="269.8" rx="32.8" ry="19.2" fill="#6f8e8e"/>
<ellipse cx="575.4" cy="268.8" rx="30" ry="16.5" fill="#7a9898"/>
<ellipse cx="557.8" cy="282.8" rx="5.5" ry="2" fill="#5fd2b6" opacity="0.9"/>
<ellipse cx="592.5" cy="283.4" rx="5.5" ry="2" fill="#5fd2b6" opacity="0.9"/>
<ellipse cx="577" cy="256.8" rx="5" ry="2" fill="#5fd2b6" opacity="0.9"/>
<ellipse cx="601.2" cy="261.7" rx="4" ry="2" fill="#5fd2b6" opacity="0.9"/>
<ellipse cx="607.3" cy="269" rx="2.5" ry="2" fill="#5fd2b6" opacity="0.9"/>
<ellipse cx="546" cy="270" rx="2.5" ry="2" fill="#5fd2b6" opacity="0.9"/>
<ellipse cx="575.8" cy="287.5" rx="4" ry="2" fill="#5fd2b6" opacity="0.9"/>
<ellipse cx="570.8" cy="271" rx="25.4" ry="11.5" fill="#7f8c7a"/>
<ellipse cx="558" cy="268" rx="5" ry="3" fill="#88907e" stroke="#a09a84" stroke-width="0.8"/>
<circle cx="558" cy="268" r="0.7" fill="#946050"/>
<ellipse cx="571" cy="265" rx="5" ry="3" fill="#88907e" stroke="#a09a84" stroke-width="0.8"/>
<circle cx="571" cy="265" r="0.7" fill="#946050"/>
<ellipse cx="584" cy="268" rx="5" ry="3" fill="#88907e" stroke="#a09a84" stroke-width="0.8"/>
<circle cx="584" cy="268" r="0.7" fill="#946050"/>
<ellipse cx="564" cy="274" rx="5" ry="3" fill="#88907e" stroke="#a09a84" stroke-width="0.8"/>
<circle cx="564" cy="274" r="0.7" fill="#946050"/>
<ellipse cx="577" cy="274" rx="5" ry="3" fill="#88907e" stroke="#a09a84" stroke-width="0.8"/>
<circle cx="577" cy="274" r="0.7" fill="#946050"/>
<ellipse cx="590" cy="274" rx="5" ry="3" fill="#88907e" stroke="#a09a84" stroke-width="0.8"/>
<circle cx="590" cy="274" r="0.7" fill="#946050"/>
<ellipse cx="570" cy="279.5" rx="5" ry="3" fill="#88907e" stroke="#a09a84" stroke-width="0.8"/>
<circle cx="570" cy="279.5" r="0.7" fill="#946050"/>
<ellipse cx="584" cy="279.5" rx="5" ry="3" fill="#88907e" stroke="#a09a84" stroke-width="0.8"/>
<circle cx="584" cy="279.5" r="0.7" fill="#946050"/>
<ellipse cx="552" cy="274" rx="5" ry="3" fill="#88907e" stroke="#a09a84" stroke-width="0.8"/>
<circle cx="552" cy="274" r="0.7" fill="#946050"/>
<ellipse cx="596" cy="268" rx="5" ry="3" fill="#88907e" stroke="#a09a84" stroke-width="0.8"/>
<circle cx="596" cy="268" r="0.7" fill="#946050"/>
<path d="M486.9,193.6 A90.15,82 0 0 1 667.2,193.6 A90.15,19.5 0 0 1 486.9,193.6 Z" fill="url(#domeG)"/>
<path d="M487.2,187 C505,172 545,167.5 578,167.5 C611,167.5 651,172 666.9,187 L667.2,193.6 A90.15,19.5 0 0 1 486.9,193.6 Z" fill="#d6d6d6" opacity="0.95"/>
<polygon points="541,201 603,201 606,212.5 538,212.5" fill="#f4f4f4"/>
<path d="M667.2,193.6 A90.15,19.5 0 0 1 486.9,193.6" fill="none" stroke="#777" stroke-width="1.1"/>
<path d="M562,110.5 L591,110.5 L587,117.5 L566,117.5 Z" fill="#8e8e8e"/>
<path d="M565.5,86.5 Q564,86.5 563.9,89 L562.2,112.3 L590.6,112.3 L589,89 Q589,86.5 587,86.5 Z" fill="url(#knobG)"/>
<rect x="562.4" y="108.5" width="28" height="3.8" fill="#3a3a3a"/>
<ellipse cx="612" cy="143" rx="11" ry="7" fill="#a4a4a4" opacity="0.55"/>
<path d="M622.5,97 C623,85 625,68 634.5,68 C643,68 646.5,74 646.5,82 C646.5,95 645,105 645.5,118 C646,132 650,146 657,152" fill="none" stroke="#ddd6c4" stroke-width="12.5" stroke-linecap="round"/>
<path d="M621.5,97 C622,85 624,70 633.5,70 C641,70 644,75 644,82 C644,95 642.5,105 643,118 C643.5,132 647,145 654,150" fill="none" stroke="#ebe6d9" stroke-width="7.5" stroke-linecap="round"/>
<path d="M618.5,94 C618.5,84 620,75 624.5,69.5" fill="none" stroke="#f5f2ea" stroke-width="2.5" stroke-linecap="round"/>
<path d="M614.3,107 L629.8,107 L629.8,140 L614.5,131 Z" fill="#e4e4e6" opacity="0.55"/>
<path d="M615.2,107 L615.2,131 M629.2,107 L629.2,140" stroke="#333" stroke-width="1.4"/>
<rect x="614.2" y="94.7" width="16.3" height="12.6" fill="url(#valveG)"/>
<path d="M614.5,130.5 L628.5,139.5" stroke="#262626" stroke-width="4.2" stroke-linecap="round"/>
<rect x="625.3" y="102" width="16" height="13.5" rx="3" fill="#2f2f2f"/>
<ellipse cx="627.5" cy="108.7" rx="3" ry="6" fill="#6a6a6a"/>
<path d="M641,89 Q646,87 650,90 Q653,108 650.5,127 Q646,129.5 641.5,127 Q638.5,108 641,89 Z" fill="#3a3a3a"/>
<path d="M645,91 Q648,108 646,124" stroke="#505050" stroke-width="2" fill="none"/>
</g>
<path d="M239.1,263.4 L241,262 C331,195 466,195 549,256" fill="none" stroke="#1c1c1c" stroke-width="6.3" stroke-linecap="round" stroke-dasharray="4.7 12.48"/>
<path d="M544.5,254.5 L551,259" stroke="#1c1c1c" stroke-width="6.3" stroke-linecap="round"/>
<polygon points="561.6,267.2 553.7,248.9 550.5,257.5 542.3,262.7" fill="#1c1c1c"/>
<g fill="#1e1e1e" font-size="19.5">
  <text transform="translate(673.5,66) scale(1.07,1)">Vacuum</text>
  <text transform="translate(673.5,86.1) scale(1.07,1)">Pipe</text>
  <text transform="translate(673.5,157) scale(1.07,1)">Vacuum</text>
  <text transform="translate(673.5,177) scale(1.07,1)">Drier</text>
  <text transform="translate(673,257.3) scale(1.07,1)">Sample</text>
  <text transform="translate(673,283) scale(1.07,1)">Culture</text>
  <text transform="translate(673,302.9) scale(1.07,1)">Dish</text>
</g>
<g stroke="#2a2a2a" stroke-width="2.2" fill="none">
  <path d="M644,71.5 H672"/>
  <path d="M644,161.8 H672"/>
  <path d="M600.3,270.6 L638.5,250.4 H672"/>
  <path d="M583.5,288.4 H672"/>
</g>
<g fill="#2a2a2a">
  <circle cx="644" cy="71.5" r="4.5"/>
  <circle cx="644" cy="161.8" r="4.5"/>
  <circle cx="600.3" cy="270.6" r="4.5"/>
  <circle cx="583.5" cy="288.4" r="4.5"/>
</g>
<path d="M0,0.5 H750" stroke="#eeeeee" stroke-width="1"/>
<path d="M748.5,0 V404" stroke="#e2e2e2" stroke-width="1.2"/>
<path d="M0,401.5 H748" stroke="#e4e4e4" stroke-width="1.5" stroke-dasharray="5 6"/>
</svg>
</body></html>
